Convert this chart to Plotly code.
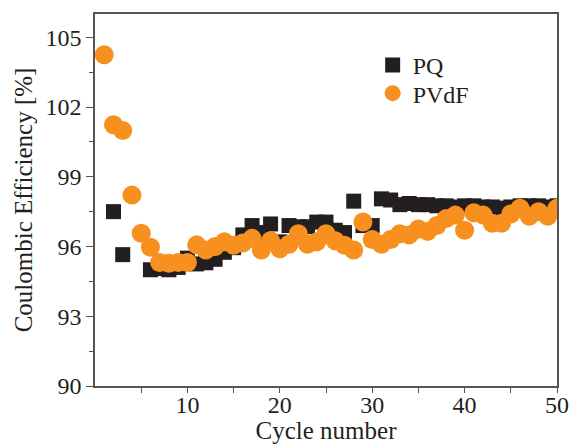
import plotly.graph_objects as go

# Cycle numbers and coulombic efficiency [%] for each binder
pq_cycles = [2, 3, 6, 7, 8, 9, 10, 11, 12, 13, 14, 15, 16, 17, 18, 19, 20,
             21, 22, 23, 24, 25, 26, 27, 28, 29, 30, 31, 32, 33, 34, 35, 36,
             37, 38, 39, 40, 41, 42, 43, 44, 45, 46, 47, 48, 49, 50]
pq_ce = [97.5, 95.65, 95.0, 95.05, 95.0, 95.1, 95.5, 95.25, 95.3, 95.45, 95.75,
         95.95, 96.5, 96.9, 96.6, 96.97, 96.2, 96.9, 96.85, 96.85, 97.05, 97.05,
         96.7, 96.6, 97.95, 96.9, 96.9, 98.05, 98.0, 97.8, 97.85, 97.8, 97.8,
         97.75, 97.75, 97.7, 97.75, 97.75, 97.7, 97.7, 97.65, 97.7, 97.75,
         97.75, 97.75, 97.7, 97.75]

pvdf_cycles = list(range(1, 51))
pvdf_ce = [104.25, 101.24, 100.99, 98.21, 96.57, 95.97, 95.31, 95.28, 95.31, 95.31,
           96.07, 95.85, 96.0, 96.2, 96.05, 96.15, 96.35, 95.85, 96.25, 95.9,
           96.1, 96.55, 96.1, 96.2, 96.55, 96.25, 96.05, 95.85, 97.05, 96.3,
           96.1, 96.3, 96.55, 96.5, 96.75, 96.65, 96.9, 97.2, 97.35, 96.7,
           97.45, 97.35, 97.0, 97.0, 97.4, 97.65, 97.3, 97.5, 97.3, 97.65]

x_ticks = [10, 20, 30, 40, 50]
y_ticks = [90, 93, 96, 99, 102, 105]

FONT = "Liberation Serif"
AXIS_COLOR = "#555555"

fig = go.Figure()
fig.add_trace(go.Scatter(
    x=pq_cycles, y=pq_ce, mode="markers", name="PQ", legend="legend",
    marker=dict(symbol="square", size=15, color="#231F20", line=dict(width=0)),
))
fig.add_trace(go.Scatter(
    x=pvdf_cycles, y=pvdf_ce, mode="markers", name="PVdF", legend="legend2",
    marker=dict(symbol="circle", size=19, color="#F7901E", line=dict(width=0)),
))

common_axis = dict(
    showgrid=False, zeroline=False, showline=True, linecolor=AXIS_COLOR,
    linewidth=1.5, tickcolor=AXIS_COLOR, tickwidth=1.2, automargin=False,
)

legend_style = dict(
    xanchor="left", yanchor="middle", bgcolor="rgba(0,0,0,0)",
    font=dict(family=FONT, size=24), itemsizing="trace",
)

fig.update_layout(
    width=578, height=444,
    margin=dict(l=95, r=21, t=14, b=58),
    paper_bgcolor="white", plot_bgcolor="white",
    font=dict(family=FONT, size=24, color="#231F20"),
    showlegend=True,
    legend=dict(x=0.601, y=0.862, **legend_style),
    legend2=dict(x=0.601, y=0.786, **legend_style),
    xaxis=dict(
        range=[0, 50], tickvals=x_ticks, ticks="outside", ticklen=5,
        minor=dict(tickvals=[5, 15, 25, 35, 45], ticks="outside", ticklen=5,
                   tickcolor=AXIS_COLOR, tickwidth=1.2),
        tickfont=dict(family=FONT, size=24), ticklabelstandoff=-9,
        title=dict(text="Cycle number", font=dict(family=FONT, size=25), standoff=3),
        mirror=True, **common_axis,
    ),
    yaxis=dict(
        range=[90, 106], tickvals=y_ticks, ticks="outside", ticklen=7,
        minor=dict(tickvals=[91.5, 94.5, 97.5, 100.5, 103.5], ticks="outside",
                   ticklen=4, tickcolor=AXIS_COLOR, tickwidth=1.2),
        tickfont=dict(family=FONT, size=24),
        title=dict(text="Coulombic Efficiency [%]", font=dict(family=FONT, size=25),
                   standoff=6),
        mirror=True, **common_axis,
    ),
    # Top and right frame edges carry inward-pointing ticks
    xaxis2=dict(
        overlaying="x", side="top", anchor="y", range=[0, 50],
        tickvals=[5, 10, 15, 20, 25, 30, 35, 40, 45], ticks="inside", ticklen=4,
        showticklabels=False, **common_axis,
    ),
    yaxis2=dict(
        overlaying="y", side="right", anchor="x", range=[90, 106],
        tickvals=[91.5, 93, 94.5, 96, 97.5, 99, 100.5, 102, 103.5, 105],
        ticks="inside", ticklen=4, showticklabels=False, **common_axis,
    ),
)

fig.write_html("out.html")
